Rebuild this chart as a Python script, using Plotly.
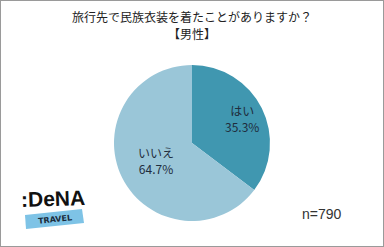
import math
import plotly.graph_objects as go

labels = ["はい", "いいえ"]
values = [35.3, 64.7]
colors = ["#4097b0", "#9ac6d8"]
label_radius = [0.71, 0.51]
title_lines = ["旅行先で民族衣装を着たことがありますか？", "【男性】"]
n_label = "n=790"

W, H = 384, 247
CX, CY, R = 192, 143, 78
font = "Noto Sans CJK JP"

fig = go.Figure()
fig.add_trace(go.Pie(
    labels=labels, values=values, sort=False, direction="clockwise", rotation=0,
    marker=dict(colors=colors, line=dict(width=0)),
    textinfo="none",
    domain=dict(x=[(CX-R)/W, (CX+R)/W], y=[(H-CY-R)/H, (H-CY+R)/H]),
    showlegend=False, hoverinfo="skip",
))

total = sum(values)
cum = 0
for lab, v, rf in zip(labels, values, label_radius):
    mid = (cum + v / 2) / total * 2 * math.pi
    cum += v
    px = CX + rf * R * math.sin(mid)
    py = CY - rf * R * math.cos(mid)
    fig.add_annotation(x=px/W, y=1-py/H, xref="paper", yref="paper",
                       text=f"{lab}<br>{v:.1f}%", showarrow=False,
                       xanchor="center", yanchor="middle",
                       font=dict(family=font, size=12, color="#1f2d3d"))

fig.add_annotation(x=0.5, y=1-17/H, xref="paper", yref="paper", text=title_lines[0],
                   showarrow=False, xanchor="center", yanchor="middle",
                   font=dict(family=font, size=12, color="#222"))
fig.add_annotation(x=0.5, y=1-33/H, xref="paper", yref="paper", text=title_lines[1],
                   showarrow=False, xanchor="center", yanchor="middle",
                   font=dict(family=font, size=12, color="#222"))
fig.add_annotation(x=300/W, y=1-214/H, xref="paper", yref="paper", text=n_label,
                   showarrow=False, xanchor="left", yanchor="middle",
                   font=dict(family="Liberation Sans", size=14, color="#333"))

# logo
fig.add_shape(type="path", xref="paper", yref="paper",
              path=f"M {25/W} {1-215/H} L {82/W} {1-209/H} L {84/W} {1-223/H} L {26/W} {1-229/H} Z",
              fillcolor="#7ec3e6", line=dict(width=0))
fig.add_annotation(x=55/W, y=1-219/H, xref="paper", yref="paper", text="<b>TRAVEL</b>",
                   showarrow=False, textangle=-6, xanchor="center", yanchor="middle",
                   font=dict(family="DejaVu Sans", size=8, color="#1a2a3a"))
fig.add_annotation(x=53/W, y=1-198/H, xref="paper", yref="paper", text="<b>:DeNA</b>",
                   showarrow=False, textangle=-2, xanchor="center", yanchor="middle",
                   font=dict(family="Liberation Sans", size=21, color="#111"))

fig.add_shape(type="rect", xref="paper", yref="paper", x0=0, x1=1, y0=0, y1=1,
              line=dict(color="#9a9a9a", width=2))

fig.update_layout(width=W, height=H, margin=dict(l=0, r=0, t=0, b=0),
                  paper_bgcolor="white", plot_bgcolor="white")
fig.write_html("out.html")
